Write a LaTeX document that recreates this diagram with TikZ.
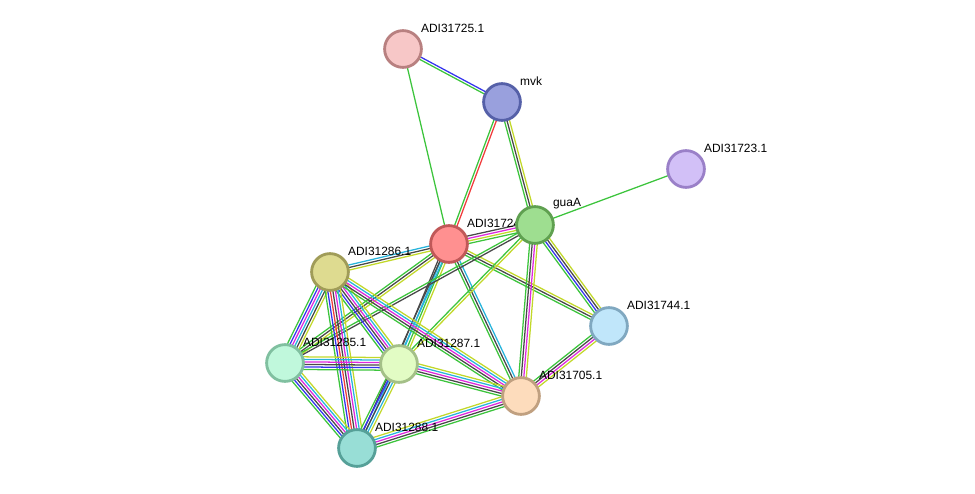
\documentclass[tikz,border=0pt]{standalone}
\usepackage{fontspec}
\setmainfont{Liberation Sans}
\usetikzlibrary{calc,backgrounds}

\definecolor{egreen}{HTML}{3CC43C}
\definecolor{ered}{HTML}{F03C3C}
\definecolor{eblue}{HTML}{3434EE}
\definecolor{ecyan}{HTML}{28B4DC}
\definecolor{emagenta}{HTML}{DE28DE}
\definecolor{eyellow}{HTML}{C2D82A}
\definecolor{eblack}{HTML}{484848}

% parallel lines between two nodes, one per evidence colour
\newcommand{\bundle}[3]{%
  \foreach \col [count=\k] in {#3} {\xdef\nlines{\k}}%
  \foreach \col [count=\k] in {#3} {%
    \pgfmathsetmacro{\off}{(\k-(\nlines+1)/2)*1.8}%
    \draw[edge,\col] ($(#1.center)!\off pt!90:(#2.center)$) -- ($(#2.center)!\off pt!-90:(#1.center)$);
  }%
}

\begin{document}
\begin{tikzpicture}[
    x=0.025cm, y=-0.025cm,
    prot/.style={circle, draw, line width=2pt, minimum size=0.92cm, inner sep=0pt},
    edge/.style={line width=0.9pt},
    tag/.style={font=\fontsize{8.5}{10}\selectfont, xshift=-0.05cm, yshift=0.525cm, inner sep=0pt}
]
\useasboundingbox (0,0) rectangle (975,494);

% Proteines
\node[prot, fill={rgb,255:red,247;green,199;blue,199}, draw={rgb,255:red,184;green,128;blue,128}, label={[tag]right:ADI31725.1}] (p725) at (403,49) {};
\node[prot, fill={rgb,255:red,153;green,160;blue,221}, draw={rgb,255:red,85;green,96;blue,168}, label={[tag]right:mvk}] (mvk) at (502,102) {};
\node[prot, fill={rgb,255:red,210;green,192;blue,247}, draw={rgb,255:red,154;green,128;blue,200}, label={[tag]right:ADI31723.1}] (p723) at (686,169) {};
\node[prot, fill={rgb,255:red,255;green,144;blue,144}, draw={rgb,255:red,192;green,88;blue,88}, label={[tag]right:ADI31724.1}] (p724) at (449,244) {};
\node[prot, fill={rgb,255:red,158;green,222;blue,144}, draw={rgb,255:red,95;green,160;blue,80}, label={[tag]right:guaA}] (guaA) at (535,225) {};
\node[prot, fill={rgb,255:red,222;green,219;blue,144}, draw={rgb,255:red,160;green,156;blue,88}, label={[tag]right:ADI31286.1}] (p286) at (330,272) {};
\node[prot, fill={rgb,255:red,192;green,230;blue,250}, draw={rgb,255:red,128;green,168;blue,192}, label={[tag]right:ADI31744.1}] (p744) at (609,326) {};
\node[prot, fill={rgb,255:red,192;green,248;blue,220}, draw={rgb,255:red,128;green,192;blue,160}, label={[tag]right:ADI31285.1}] (p285) at (285,363) {};
\node[prot, fill={rgb,255:red,226;green,252;blue,196}, draw={rgb,255:red,164;green,192;blue,136}, label={[tag]right:ADI31287.1}] (p287) at (399,364) {};
\node[prot, fill={rgb,255:red,253;green,220;blue,188}, draw={rgb,255:red,192;green,160;blue,128}, label={[tag]right:ADI31705.1}] (p705) at (521,396) {};
\node[prot, fill={rgb,255:red,152;green,222;blue,214}, draw={rgb,255:red,86;green,160;blue,152}, label={[tag]right:ADI31288.1}] (p288) at (357,448) {};

% Liens
\begin{pgfonlayer}{background}
\bundle{p725}{mvk}{egreen,eblue}
\bundle{p725}{p724}{egreen}
\bundle{mvk}{p724}{egreen,ered}
\bundle{mvk}{guaA}{egreen,eblack,eyellow}
\bundle{p723}{guaA}{egreen}
\bundle{p724}{guaA}{egreen,eyellow,emagenta,eblack}
\bundle{p724}{p286}{ecyan,eblack,eyellow}
\bundle{p724}{p744}{egreen,eblack,eyellow}
\bundle{p724}{p705}{egreen,eblack,ecyan}
\bundle{p724}{p287}{eblack,ecyan,egreen,eyellow}
\bundle{p724}{p285}{egreen,eblack,eyellow}
\bundle{p724}{p288}{eblack,ecyan}
\bundle{guaA}{p744}{egreen,eblue,eblack,eyellow}
\bundle{guaA}{p705}{egreen,eblack,emagenta,eyellow}
\bundle{guaA}{p287}{egreen,eyellow}
\bundle{guaA}{p285}{egreen,eblack}
\bundle{p744}{p705}{egreen,eblack,emagenta,eyellow}
\bundle{p286}{p285}{egreen,eblue,emagenta,ecyan,eblack,eyellow}
\bundle{p286}{p287}{egreen,eblue,eblack,emagenta,ecyan,eyellow}
\bundle{p286}{p288}{egreen,eblue,ered,eblack,emagenta,ecyan,eyellow}
\bundle{p286}{p705}{egreen,eblack,emagenta,ecyan,eyellow}
\bundle{p285}{p287}{egreen,eblue,eblack,emagenta,ecyan,eyellow}
\bundle{p285}{p288}{egreen,eblue,eblack,emagenta,ecyan,eyellow}
\bundle{p287}{p288}{egreen,eblue,eblack,ecyan,eyellow}
\bundle{p287}{p705}{egreen,eblack,emagenta,ecyan,eyellow}
\bundle{p288}{p705}{egreen,eblack,emagenta,ecyan,eyellow}
\end{pgfonlayer}

\end{tikzpicture}
\end{document}
